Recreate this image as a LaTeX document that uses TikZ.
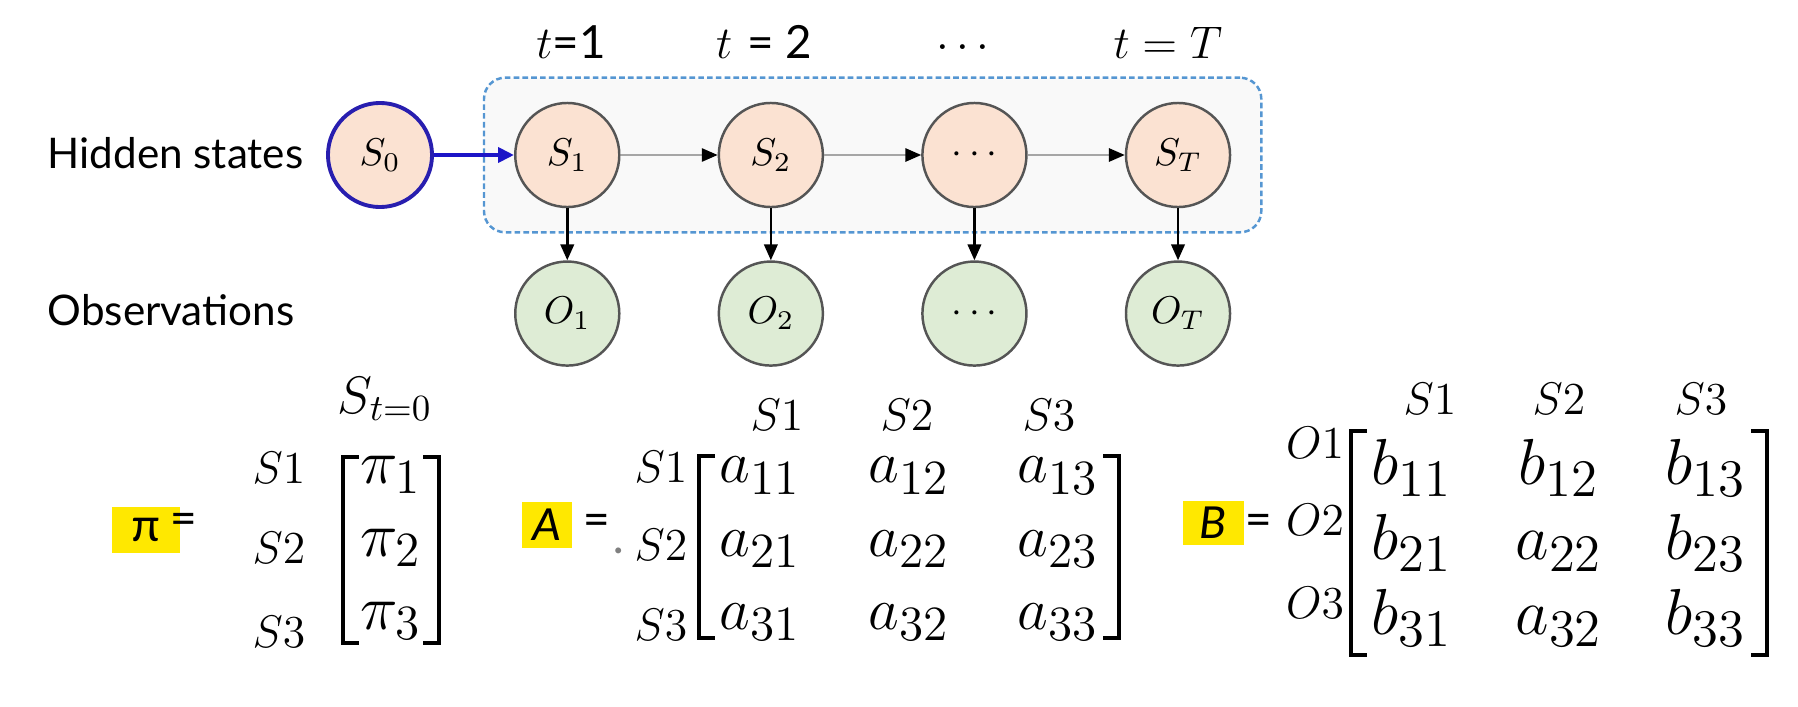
\documentclass[tikz,border=0pt]{standalone}
\usepackage{fix-cm}
\usepackage[no-math]{fontspec}
\newfontfamily\labelfont{Lato}
\newfontfamily\calfont{Carlito}
\usetikzlibrary{arrows.meta, positioning, fit, backgrounds, matrix}

\DeclareMathSizes{17}{17}{14}{11}
\DeclareMathSizes{18}{18}{14}{11}
\DeclareMathSizes{18.5}{18.5}{15}{11}

\definecolor{sfill}{RGB}{251,226,210}
\definecolor{ofill}{RGB}{222,236,213}
\definecolor{ringgray}{RGB}{85,85,85}
\definecolor{initblue}{RGB}{40,30,175}
\definecolor{boxblue}{RGB}{85,150,210}
\definecolor{boxfill}{RGB}{249,249,249}
\definecolor{hlyellow}{RGB}{255,232,0}

\begin{document}
\begin{tikzpicture}[x=0.01cm, y=-0.01cm, node distance=0.97cm]
      \tikzset{
  state/.style={
    circle, draw=ringgray, line width=0.7pt, fill=sfill,
    minimum size=1.04cm, inner sep=0pt,
    font=\fontsize{11}{13}\selectfont
  },
  obs/.style   ={state, fill=ofill},
  init/.style  ={state, draw=initblue, line width=1.1pt},
  arrow/.style ={-{Stealth[length=4.5pt, width=3.8pt, inset=0pt]}, line width=0.7pt},
  harrow/.style={-{Stealth[length=4.5pt, width=3.8pt, inset=0pt, color=black]}, draw=gray!70, line width=0.5pt},
  iarrow/.style={-{Stealth[length=4.5pt, width=4.2pt, inset=0pt]}, draw=initblue!70!blue, line width=1.2pt},
  sidelbl/.style={font=\labelfont\fontsize{12}{14}\selectfont, anchor=base west, inner sep=0pt},
  steplbl/.style={font=\fontsize{13}{15}\selectfont, anchor=base, inner sep=0pt},
  rowlbl/.style ={font=\fontsize{13}{15}\selectfont, anchor=base, inner sep=0pt},
  hl/.style     ={fill=hlyellow, inner sep=0pt, font=\calfont\fontsize{14}{16}\selectfont},
  eqsign/.style ={inner sep=0pt, font=\calfont\fontsize{14}{16}\selectfont},
  bracket/.style={line width=1.1pt},
  entries/.style={
    matrix of math nodes, inner sep=0pt, column sep=0.29cm,
    nodes={inner sep=0pt, minimum width=1.2cm, font=\fontsize{17}{19}\selectfont}
  },
}

%% ---- CHAIN ----
\node[init] (s0) at (380,155) {$S_0$};
\node[state, right=0.80cm of s0] (s1)    {$S_1$};
\node[state, right=of s1]        (s2)    {$S_2$};
\node[state, right=of s2]        (sdots) {$\cdots$};
\node[state, right=of sdots]     (sT)    {$S_T$};

\node[obs, below=0.52cm of s1]    (o1)    {$O_1$};
\node[obs, below=0.52cm of s2]    (o2)    {$O_2$};
\node[obs, below=0.52cm of sdots] (odots) {$\cdots$};
\node[obs, below=0.52cm of sT]    (oT)    {$O_T$};

\draw[iarrow] (s0)    -- (s1);
\draw[harrow] (s1)    -- (s2);
\draw[harrow] (s2)    -- (sdots);
\draw[harrow] (sdots) -- (sT);

\draw[arrow] (s1)    -- (o1);
\draw[arrow] (s2)    -- (o2);
\draw[arrow] (sdots) -- (odots);
\draw[arrow] (sT)    -- (oT);

\node[sidelbl] (hidlbl) at (47,168) {Hidden states};
\node[sidelbl] (obslbl) at (47,325) {Observations};

\node[steplbl] (t1)    at (571,58) {$t${\labelfont=1}};
\node[steplbl] (t2)    at (764,58) {$t$ {\labelfont= 2}};
\node[steplbl] (tdots) at (963,58) {$\cdots$};
\node[steplbl] (tT)    at (1168,58) {$t = T$};

\begin{scope}[on background layer]
  \node[draw=boxblue, fill=boxfill, line width=0.7pt, dash pattern=on 1.6pt off 0.9pt,
        rounded corners=6pt, fit=(s1)(sT), inner xsep=0.3cm, inner ysep=0.24cm] (chainbox) {};
\end{scope}

%% ---- INITIAL VECTOR ----
\node[hl, minimum width=0.68cm, minimum height=0.45cm] (pilbl) at (146,530) {π};
\node[eqsign] (pieq) at (184,524) {=};

\matrix (pimat) [entries, row sep=0.34cm,
  nodes={text height=0.26cm, text depth=0.13cm, minimum width=0.95cm, font=\fontsize{18}{20}\selectfont}] at (391,550) {
  \pi_1 \\
  \pi_2 \\
  \pi_3 \\
};
\draw[bracket] ([xshift=4.5pt]pimat.north west) -| (pimat.south west) -- ++(4.5pt,0);
\draw[bracket] ([xshift=-4.5pt]pimat.north east) -| (pimat.south east) -- ++(-4.5pt,0);

\node[rowlbl, font=\fontsize{15}{17}\selectfont] (pihead) at (385,413) {$S_{t=0}$};
\node[rowlbl] (pir1) at (279,483) {$S1$};
\node[rowlbl] (pir2) at (279,563) {$S2$};
\node[rowlbl] (pir3) at (279,647) {$S3$};

%% ---- TRANSITION MATRIX ----
\node[hl, minimum width=0.50cm, minimum height=0.45cm] (albl) at (547,525) {\itshape A};
\node[eqsign] (aeq) at (597,525) {=};
\node[eqsign, text=gray] (adot) at (619,551) {.};

\matrix (amat) [entries, row sep=0.39cm,
  nodes={text height=0.26cm, text depth=0.08cm}] at (909,547) {
  a_{11} & a_{12} & a_{13} \\
  a_{21} & a_{22} & a_{23} \\
  a_{31} & a_{32} & a_{33} \\
};
\draw[bracket] ([xshift=4.5pt]amat.north west) -| (amat.south west) -- ++(4.5pt,0);
\draw[bracket] ([xshift=-4.5pt]amat.north east) -| (amat.south east) -- ++(-4.5pt,0);

\node[rowlbl] (ar1) at (661,482) {$S1$};
\node[rowlbl] (ar2) at (661,560) {$S2$};
\node[rowlbl] (ar3) at (661,640) {$S3$};
\node[rowlbl] (ac1) at (777,430) {$S1$};
\node[rowlbl] (ac2) at (907,430) {$S2$};
\node[rowlbl] (ac3) at (1049,430) {$S3$};

%% ---- EMISSION MATRIX ----
\node[hl, minimum width=0.61cm, minimum height=0.43cm] (blbl) at (1213,523) {\itshape B};
\node[eqsign] (beq) at (1259,525) {=};

\matrix (bmat) [entries, row sep=0.02cm, column sep=0.27cm,
  nodes={text height=0.53cm, text depth=0.20cm, font=\fontsize{18.5}{21}\selectfont}] at (1559,543) {
  b_{11} & b_{12} & b_{13} \\
  b_{21} & a_{22} & b_{23} \\
  b_{31} & a_{32} & b_{33} \\
};
\draw[bracket] ([xshift=4.5pt]bmat.north west) -| (bmat.south west) -- ++(4.5pt,0);
\draw[bracket] ([xshift=-4.5pt]bmat.north east) -| (bmat.south east) -- ++(-4.5pt,0);

\node[rowlbl] (br1) at (1315,458) {$O1$};
\node[rowlbl] (br2) at (1315,535) {$O2$};
\node[rowlbl] (br3) at (1315,618) {$O3$};
\node[rowlbl] (bc1) at (1430,414) {$S1$};
\node[rowlbl] (bc2) at (1559,414) {$S2$};
\node[rowlbl] (bc3) at (1701,414) {$S3$};

\useasboundingbox (0,0) rectangle (1798,706);
    \end{tikzpicture}
\end{document}
